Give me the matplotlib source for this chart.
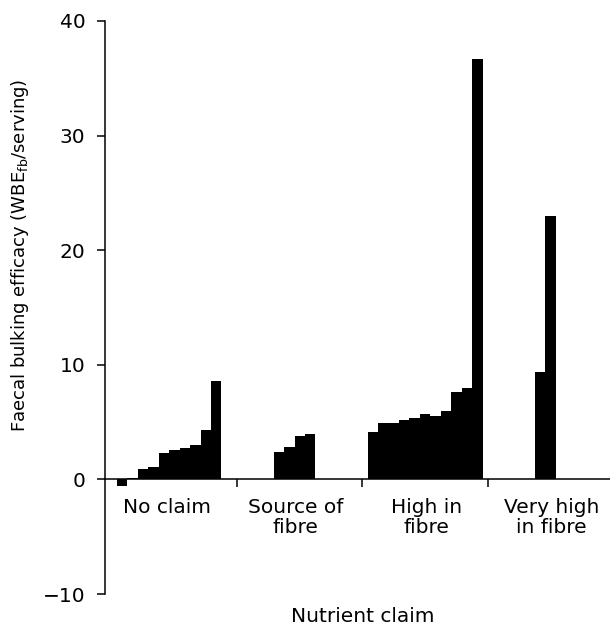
import matplotlib
matplotlib.use("Agg")
import matplotlib.pyplot as plt

# one bar per product, grouped by nutrient claim (slot index along x)
no_claim = [-0.6, 0.15, 0.9, 1.1, 2.3, 2.6, 2.7, 3.0, 4.3, 8.6]
source_of_fibre = [2.4, 2.8, 3.75, 3.95]
high_in_fibre = [4.1, 4.9, 4.9, 5.2, 5.35, 5.75, 5.5, 6.0, 7.65, 7.95, 36.7]
very_high_in_fibre = [9.4, 23.0]

group_starts = [0, 15, 24, 40]
group_labels = ["No claim", "Source of\nfibre", "High in\nfibre", "Very high\nin fibre"]
label_pos = [4.8, 17.1, 29.6, 41.6]
group_ticks = [11.5, 23.5, 35.5]
yticks = [-10, 0, 10, 20, 30, 40]

fig = plt.figure(figsize=(6.10, 6.28), dpi=100)
ax = fig.add_axes([105 / 610, 1 - 594 / 628, 505 / 610, 573 / 628])

for start, vals in zip(group_starts, [no_claim, source_of_fibre, high_in_fibre, very_high_in_fibre]):
    xs = [start + i for i in range(len(vals))]
    ax.bar(xs, vals, width=1.0, color="black", edgecolor="none", align="edge")

ax.set_xlim(-1.15, 47.2)
ax.set_ylim(-10, 40)

ax.spines["top"].set_visible(False)
ax.spines["right"].set_visible(False)
ax.spines["bottom"].set_position(("data", 0))
for s in ["left", "bottom"]:
    ax.spines[s].set_linewidth(1.1)

ax.set_yticks(yticks)
ax.tick_params(axis="y", direction="out", length=6, width=1.1, pad=8, labelsize=14.5)
ax.set_xticks(group_ticks)
ax.set_xticklabels([])
ax.tick_params(axis="x", direction="out", length=5.5, width=1.1)

for x, lab in zip(label_pos, group_labels):
    ax.text(x, -1.6, lab, ha="center", va="top", fontsize=14.5, linespacing=1.1)

fig.text(20 / 610, 1 - 255 / 628, "Faecal bulking efficacy (WBE$_{\\mathrm{fb}}$/serving)",
         rotation=90, ha="center", va="center", fontsize=13)
fig.text(363 / 610, 1 - 616 / 628, "Nutrient claim", ha="center", va="center", fontsize=14.5)

fig.savefig("out.png", dpi=100)
